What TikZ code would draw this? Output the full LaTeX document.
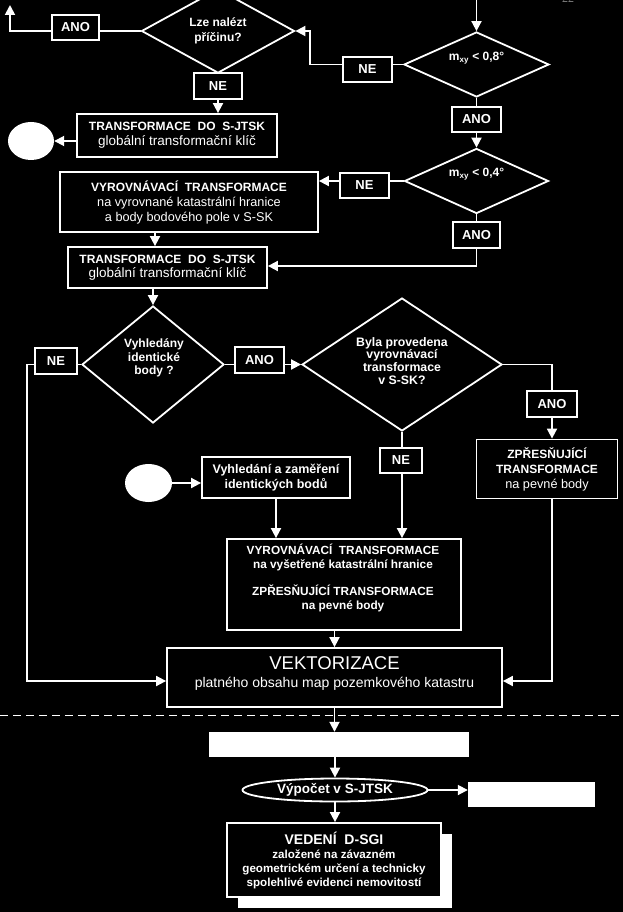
\documentclass[tikz,border=0pt]{standalone}
\usepackage{fontspec}
\setmainfont{Liberation Sans}
\newfontfamily\seriffam{Liberation Serif}
\usetikzlibrary{arrows.meta,shapes.geometric}
\newcommand\fB{\fontsize{12}{15}\selectfont\bfseries}
\newcommand\fR{\fontsize{12.7}{15}\selectfont\mdseries}
\begin{document}
\begin{tikzpicture}[x=1pt,y=-1pt,
 ln/.style={draw=white,line width=1.8pt},
 arr/.style={ln,-{Triangle[length=10pt,width=10pt]}},
 bx/.style={draw=white,line width=1.8pt,fill=black,text=white,inner sep=0pt,align=center},
 yn/.style={bx,font=\fontsize{13}{15}\selectfont\bfseries},
 dia/.style={diamond,draw=white,line width=1.8pt,fill=black,inner sep=0pt,text=white,align=center},
 txt/.style={text=white,align=center,inner sep=0pt},
 ov/.style={ellipse,fill=white,inner sep=0pt},
 wbox/.style={fill=white,inner sep=0pt},
]
\fill[black] (0,0) rectangle (623,912);
\useasboundingbox (0,0) rectangle (623,912);

\node[text=gray,font=\seriffam\fontsize{12}{12}\selectfont,anchor=base,inner sep=0pt] (pg) at (568,3) {22};

% coordinates
\coordinate (top) at (476.5,0);
\coordinate (k1) at (310,0);
\coordinate (k2) at (10,5);
\coordinate (k3) at (0,266);
\coordinate (k4) at (155,0);
\coordinate (k5) at (27,681);
\coordinate (k6) at (552,0);
\coordinate (k7) at (0,681);

% top part
\node[dia,minimum width=153pt,minimum height=62pt,font=\fontsize{12}{15.5}\selectfont\bfseries] (d0) at (218,31) {Lze nalézt\\příčinu?};
\node[yn,minimum width=47pt,minimum height=25pt] (ano0) at (75.5,27.5) {ANO};
\node[yn,minimum width=48pt,minimum height=26pt] (ne0) at (218,86) {NE};
\node[bx,minimum width=200pt,minimum height=43pt,font=\fontsize{13.5}{15}\selectfont] (b1) at (177,135.5) {\fB TRANSFORMACE\ \ DO\ \ S-JTSK\\globální transformační klíč};
\node[ov,minimum width=46pt,minimum height=38pt] (c1) at (31,141) {};

\node[dia,minimum width=145pt,minimum height=65pt] (d1) at (476.5,64.5) {};
\node[txt,font=\fB] (t1) at (476.5,58) {m\textsubscript{xy} < 0,8°};
\node[yn,minimum width=49pt,minimum height=25pt] (ne1) at (367.5,69.5) {NE};
\node[yn,minimum width=49pt,minimum height=25pt] (ano1) at (476.5,119.5) {ANO};
\node[dia,minimum width=144pt,minimum height=65pt] (d2) at (476.5,181) {};
\node[txt,font=\fB] (t2) at (476.5,174) {m\textsubscript{xy} < 0,4°};
\node[yn,minimum width=49pt,minimum height=25pt] (ne2) at (364.5,185.5) {NE};
\node[yn,minimum width=47pt,minimum height=26pt] (ano2) at (476.5,235) {ANO};

\node[bx,minimum width=258pt,minimum height=60pt,font=\fR] (b2) at (189,202) {\fB VYROVNÁVACÍ\ \ TRANSFORMACE\\na vyrovnané katastrální hranice\\a body bodového pole v S-SK};
\node[bx,minimum width=199pt,minimum height=41pt,font=\fontsize{13.5}{14.5}\selectfont] (b3) at (167.5,267.5) {\fB TRANSFORMACE\ \ DO\ \ S-JTSK\\globální transformační klíč};

% middle
\node[dia,minimum width=142pt,minimum height=117pt] (d3) at (153,364.5) {};
\node[txt,font=\fontsize{12}{13.5}\selectfont\bfseries] (t3) at (154,358) {Vyhledány\\identické\\body ?};
\node[yn,minimum width=42pt,minimum height=26pt] (ne3) at (56,361) {NE};
\node[yn,minimum width=49pt,minimum height=26pt] (ano3) at (259.5,360) {ANO};
\node[dia,minimum width=200pt,minimum height=133pt] (d4) at (402,364.5) {};
\node[txt,font=\fontsize{12.3}{12.8}\selectfont\bfseries] (t4) at (402,361) {Byla provedena\\vyrovnávací\\transformace\\v S-SK?};
\node[yn,minimum width=50pt,minimum height=26pt] (ano4) at (552,404) {ANO};
\node[bx,minimum width=141pt,minimum height=59pt,font=\fR] (b4) at (547,469) {\fB ZPŘESŇUJÍCÍ\\\fB TRANSFORMACE\\na pevné body};
\node[yn,minimum width=42pt,minimum height=25pt] (ne4) at (401,460.5) {NE};
\node[ov,minimum width=47pt,minimum height=38pt] (c2) at (148.5,483) {};
\node[bx,minimum width=148pt,minimum height=41pt,font=\fontsize{12.5}{15}\selectfont\bfseries] (b5) at (276,477.5) {Vyhledání a zaměření\\identických bodů};

\node[bx,minimum width=234pt,minimum height=91pt] (b6) at (344,584.5) {};
\node[txt,font=\fontsize{11.8}{14.5}\selectfont\bfseries] (t6) at (343,578) {VYROVNÁVACÍ\ \ TRANSFORMACE\\na vyšetřené katastrální hranice\\[12pt]ZPŘESŇUJÍCÍ TRANSFORMACE\\na pevné body};

\node[bx,minimum width=335pt,minimum height=59pt] (b7) at (334.5,677.5) {};
\node[txt,font=\fontsize{18.5}{20}\selectfont] (t7a) at (334.5,663) {VEKTORIZACE};
\node[txt,font=\fontsize{14}{16}\selectfont] (t7b) at (334.5,684) {platného obsahu map pozemkového katastru};

\draw[white,line width=1pt,dash pattern=on 8pt off 5pt] (0,715) coordinate (dl) -- (623,715) coordinate (dr);

% bottom
\node[wbox,minimum width=260pt,minimum height=25pt] (w1) at (339,744.5) {};
\node[ellipse,draw=white,line width=1.8pt,fill=black,text=white,inner sep=0pt,minimum width=185pt,minimum height=23pt,font=\fontsize{13.5}{15}\selectfont\bfseries] (e1) at (335,790) {Výpočet v S-JTSK};
\node[wbox,minimum width=127pt,minimum height=25pt] (w2) at (531.5,794.5) {};
\fill[white] (238,834) rectangle (452,908);
\node[bx,minimum width=214pt,minimum height=74pt,font=\fontsize{11.6}{14}\selectfont\bfseries] (b8) at (334,860) {\fontsize{14}{15}\selectfont VEDENÍ\ \ D-SGI\\založené na závazném\\geometrickém určení a technicky\\spolehlivé evidenci nemovitostí};

% connectors
\draw[arr] (top) -- (d1.north);
\draw[ln] (d1.west) -- (d1.west -| ne1.east);
\draw[arr] (d1.west -| ne1.west) -- (d1.west -| k1) -- (d0.east -| k1) -- (d0.east);
\draw[ln] (d0.west) -- (d0.west -| ano0.east);
\draw[arr] (d0.west -| ano0.west) -- (d0.west -| k2) -- (k2);
\draw[ln] (d0.south) -- (ne0.north);
\draw[arr] (ne0.south) -- (ne0.south |- b1.north);
\draw[arr] (b1.west |- c1.east) -- (c1.east);
\draw[ln] (d1.south) -- (ano1.north);
\draw[arr] (ano1.south) -- (d2.north);
\draw[ln] (d2.west) -- (d2.west -| ne2.east);
\draw[arr] (d2.west -| ne2.west) -- (d2.west -| b2.east);
\draw[ln] (d2.south) -- (ano2.north);
\draw[arr] (ano2.south) -- (ano2.south |- k3) -- (b3.east |- k3);
\draw[arr] (b2.south -| k4) -- (b3.north -| k4);
\draw[arr] (b3.south -| d3.north) -- (d3.north);
\draw[ln] (d3.west) -- (d3.west -| ne3.east);
\draw[arr] (d3.west -| ne3.west) -- (d3.west -| k5) -- (k5) -- (k5 -| b7.west);
\draw[ln] (d3.east) -- (d3.east -| ano3.west);
\draw[arr] (d3.east -| ano3.east) -- (d4.west);
\draw[ln] (d4.east) -- (d4.east -| k6) -- (k6 |- ano4.north);
\draw[arr] (k6 |- ano4.south) -- (k6 |- b4.north);
\draw[ln] (d4.south) -- (d4.south |- ne4.north);
\draw[arr] (d4.south |- ne4.south) -- (d4.south |- b6.north);
\draw[arr] (c2.east) -- (c2.east -| b5.west);
\draw[arr] (b5.south) -- (b5.south |- b6.north);
\draw[arr] (k6 |- b4.south) -- (k6 |- k7) -- (b7.east |- k7);
\draw[arr] (b6.south -| b7.north) -- (b7.north);
\draw[arr] (b7.south) -- (b7.south |- w1.north);
\draw[arr] (e1.north |- w1.south) -- (e1.north);
\draw[arr] (e1.east) -- (e1.east -| w2.west);
\draw[arr] (e1.south) -- (e1.south |- b8.north);
\end{tikzpicture}
\end{document}
